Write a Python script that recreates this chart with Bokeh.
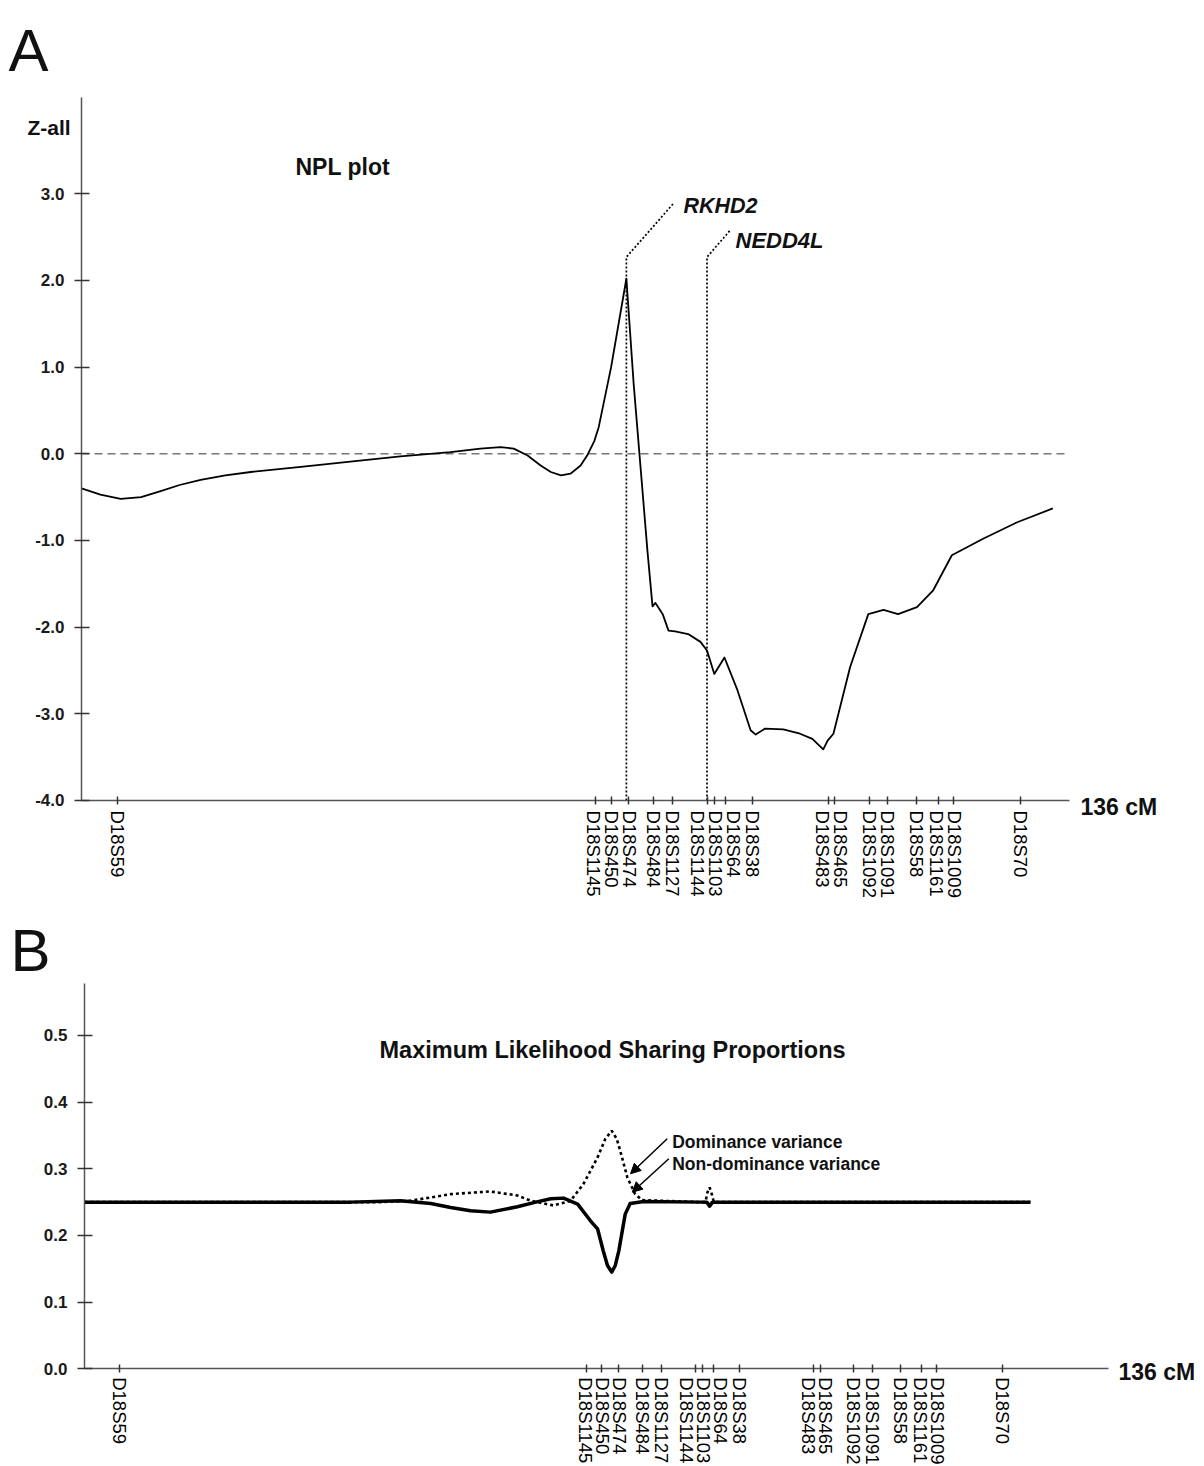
from bokeh.plotting import figure
from bokeh.layouts import column
from bokeh.models import (Range1d, FixedTicker, NumeralTickFormatter, Label,
                          LabelSet, ColumnDataSource, Arrow, NormalHead)
from bokeh.core.properties import value
from bokeh.embed import file_html
from bokeh.resources import INLINE

FONT = "Liberation Sans"

# ---------------- data ----------------
markers = ["D18S59", "D18S1145", "D18S450", "D18S474", "D18S484", "D18S1127",
           "D18S1144", "D18S1103", "D18S64", "D18S38", "D18S483", "D18S465",
           "D18S1092", "D18S1091", "D18S58", "D18S1161", "D18S1009", "D18S70"]
marker_cm = [5.0, 70.7, 72.9, 75.3, 78.7, 81.3, 86.1, 87.1, 88.6, 92.3,
             102.8, 103.7, 108.4, 111.0, 115.0, 117.9, 120.0, 129.3]

npl_cm = [0.0, 2.6, 5.4, 8.2, 10.9, 13.5, 16.4, 19.8, 23.3, 30.2, 37.0, 43.9,
          50.8, 54.9, 57.7, 59.5, 61.4, 63.2, 64.6, 66.0, 67.3, 68.7, 69.6,
          70.6, 71.2, 72.9, 75.0, 76.0, 77.9, 78.6, 79.0, 80.0, 80.8, 81.7,
          83.5, 85.2, 86.1, 87.1, 88.5, 90.3, 92.1, 92.8, 94.1, 96.6, 98.9,
          100.6, 102.1, 102.7, 103.5, 105.8, 108.3, 110.4, 112.4, 115.0,
          117.2, 119.8, 124.1, 128.8, 133.7]
npl_z = [-0.40, -0.47, -0.52, -0.50, -0.43, -0.36, -0.30, -0.25, -0.21, -0.15,
         -0.09, -0.03, 0.02, 0.06, 0.076, 0.06, -0.02, -0.135, -0.21, -0.25,
         -0.23, -0.135, -0.02, 0.15, 0.31, 1.0, 2.02, 0.81, -1.12, -1.76,
         -1.72, -1.85, -2.04, -2.05, -2.08, -2.17, -2.27, -2.54, -2.35, -2.73,
         -3.19, -3.24, -3.17, -3.18, -3.23, -3.29, -3.41, -3.31, -3.23, -2.46,
         -1.85, -1.80, -1.85, -1.77, -1.58, -1.17, -0.98, -0.79, -0.63]

genes = ["RKHD2", "NEDD4L"]
gene_cm = [75.0, 86.1]

nondom_cm = [0.0, 37.5, 44.5, 48.8, 51.6, 54.4, 57.2, 61.0, 63.6, 65.7, 67.5,
             69.5, 71.3, 72.3, 73.1, 73.7, 74.3, 74.8, 75.3, 76.2, 76.9, 78.8,
             86.8, 87.7, 88.1, 88.5, 133.3]
nondom_v = [0.250, 0.250, 0.252, 0.248, 0.242, 0.237, 0.235, 0.243, 0.250,
            0.255, 0.256, 0.247, 0.222, 0.210, 0.177, 0.155, 0.145, 0.155,
            0.177, 0.232, 0.248, 0.251, 0.250, 0.250, 0.244, 0.250, 0.250]

dom_cm = [0.0, 41.7, 45.9, 51.6, 57.2, 61.0, 62.9, 66.1, 68.5, 70.3, 72.3,
          73.4, 74.3, 75.0, 75.5, 76.5, 77.6, 78.6, 86.8, 87.5, 87.8, 88.1,
          88.4, 88.7, 133.3]
dom_v = [0.250, 0.250, 0.252, 0.262, 0.266, 0.260, 0.252, 0.245, 0.252, 0.277,
         0.317, 0.345, 0.357, 0.345, 0.327, 0.287, 0.262, 0.253, 0.250, 0.250,
         0.265, 0.272, 0.262, 0.250, 0.250]

npl_ticks = [-4.0, -3.0, -2.0, -1.0, 0.0, 1.0, 2.0, 3.0]
share_ticks = [0.0, 0.1, 0.2, 0.3, 0.4, 0.5]

# ---------------- layout geometry (canvas pixels) ----------------
W = 1204
HA, HB = 905, 561
A_X0, A_PX, A_Y0, A_PY = 81.0, 7.265, 453.3, 86.67       # cM 0 / z 0 positions
B_X0, B_PX, B_Y0, B_PY = 84.0, 7.096, 463.3, 666.7


def mk(xa, ya):
    return (lambda px: (px - xa[0]) / xa[1]), (lambda py: (ya[0] - py) / ya[1])


Ax, Ay = mk((A_X0, A_PX), (A_Y0, A_PY))
Bx, By = mk((B_X0, B_PX), (B_Y0, B_PY))


def spread(xs, gap):
    pos = [float(v) for v in xs]
    for _ in range(600):
        for i in range(len(pos) - 1):
            d = pos[i + 1] - pos[i]
            if d < gap:
                s = (gap - d) / 2.0
                pos[i] -= s
                pos[i + 1] += s
    return pos


def style(p, yticks, ybounds, xbounds):
    p.outline_line_color = None
    p.xgrid.visible = False
    p.ygrid.visible = False
    for ax in (p.xaxis[0], p.yaxis[0]):
        ax.axis_line_color = "#555555"
        ax.axis_line_width = 1.5
        ax.major_tick_line_color = "#333333"
        ax.major_tick_line_width = 1.5
        ax.minor_tick_line_color = None
        ax.major_label_text_font = FONT
        ax.major_label_text_font_style = "bold"
        ax.major_label_text_font_size = "17px"
        ax.major_label_text_color = "#1a1a1a"
    ya = p.yaxis[0]
    ya.ticker = FixedTicker(ticks=yticks)
    ya.formatter = NumeralTickFormatter(format="0.0")
    ya.major_tick_in = 8
    ya.major_tick_out = 7
    ya.major_label_standoff = 10
    ya.fixed_location = xbounds[0]
    ya.bounds = ybounds
    xa = p.xaxis[0]
    xa.ticker = FixedTicker(ticks=marker_cm)
    xa.major_tick_in = 4
    xa.major_tick_out = 4
    xa.major_label_text_font_size = "0px"
    xa.major_label_text_color = None
    xa.fixed_location = ybounds[0]
    xa.bounds = xbounds


def marker_labels(p, gap, y):
    src = ColumnDataSource(dict(x=spread(marker_cm, gap), y=[y] * len(markers),
                                name=markers))
    p.add_layout(LabelSet(x="x", y="y", text="name", source=src, angle=-1.5707963,
                          text_font=value(FONT), text_font_size="18.5px",
                          text_align="left", text_baseline="middle",
                          text_color="#000000"))


def txt(p, x, y, s, size, style_="bold"):
    p.add_layout(Label(x=x, y=y, text=s, text_font=FONT, text_font_size=size,
                       text_font_style=style_, text_align="left",
                       text_baseline="alphabetic", text_color="#111111"))


def base_fig(h, fx, fy):
    return figure(width=W, height=h,
                  x_range=Range1d(fx(0), fx(W)), y_range=Range1d(fy(h), fy(0)),
                  output_backend="svg", toolbar_location=None, title=None,
                  min_border_left=0, min_border_right=0,
                  min_border_top=0, min_border_bottom=0)


# ---------------- panel A ----------------
pA = base_fig(HA, Ax, Ay)
A_XB = (0, 136)
A_YB = (-4.0, 4.11)
style(pA, npl_ticks, A_YB, A_XB)
pA.line(list(A_XB), [0, 0], line_color="#777777", line_dash="8 5", line_width=1.5)

# gene pointers (vertical at the gene position, then a slanted leader)
gene_top = 2.27
gene_dx = [6.5, 3.2]
gene_ty = [2.89, 2.58]
for gx, dx, ty in zip(gene_cm, gene_dx, gene_ty):
    pA.line([gx, gx, gx + dx], [A_YB[0], gene_top, ty], line_color="black",
            line_width=1.7, line_dash="2 2")
txt(pA, Ax(683), Ay(205), genes[0], "21.5px", "bold italic")
txt(pA, Ax(735), Ay(240), genes[1], "22px", "bold italic")

pA.line(npl_cm, npl_z, line_color="black", line_width=1.8, line_join="round")

txt(pA, Ax(295), Ay(166), "NPL plot", "23px")
txt(pA, Ax(27), Ay(126.7), "Z-all", "21px")
txt(pA, Ax(1080), Ay(806), "136 cM", "23px")
txt(pA, Ax(8), Ay(50), "A", "60px", "normal")
marker_labels(pA, 18 / A_PX, Ay(810))

# ---------------- panel B ----------------
pB = base_fig(HB, Bx, By)
B_XB = (0, 144.3)
B_YB = (0.0, 0.5775)
style(pB, share_ticks, B_YB, B_XB)

pB.line(dom_cm, dom_v, line_color="black", line_width=2.6, line_dash="3 3")
pB.line(nondom_cm, nondom_v, line_color="black", line_width=3.5, line_join="round")

OFF = 905  # page y of panel B top
txt(pB, Bx(379), By(1049.3 - OFF), "Maximum Likelihood Sharing Proportions", "23.5px")
txt(pB, Bx(671.7), By(1141.7 - OFF), "Dominance variance", "17.5px")
txt(pB, Bx(671.7), By(1163.3 - OFF), "Non-dominance variance", "17.5px")
for (x0, y0, x1, y1) in [(666.7, 1138.3, 630.0, 1173.3), (668.3, 1158.3, 631.7, 1191.7)]:
    pB.add_layout(Arrow(end=NormalHead(size=10, fill_color="black", line_color="black"),
                        x_start=Bx(x0), y_start=By(y0 - OFF),
                        x_end=Bx(x1), y_end=By(y1 - OFF),
                        line_width=1.5, line_color="black"))
txt(pB, Bx(1118), By(1371 - OFF), "136 cM", "23px")
txt(pB, Bx(10), By(950 - OFF), "B", "60px", "normal")
marker_labels(pB, 17 / B_PX, By(1376.7 - OFF))

layout = column(pA, pB)
open("out.html", "w").write(file_html(layout, INLINE))
